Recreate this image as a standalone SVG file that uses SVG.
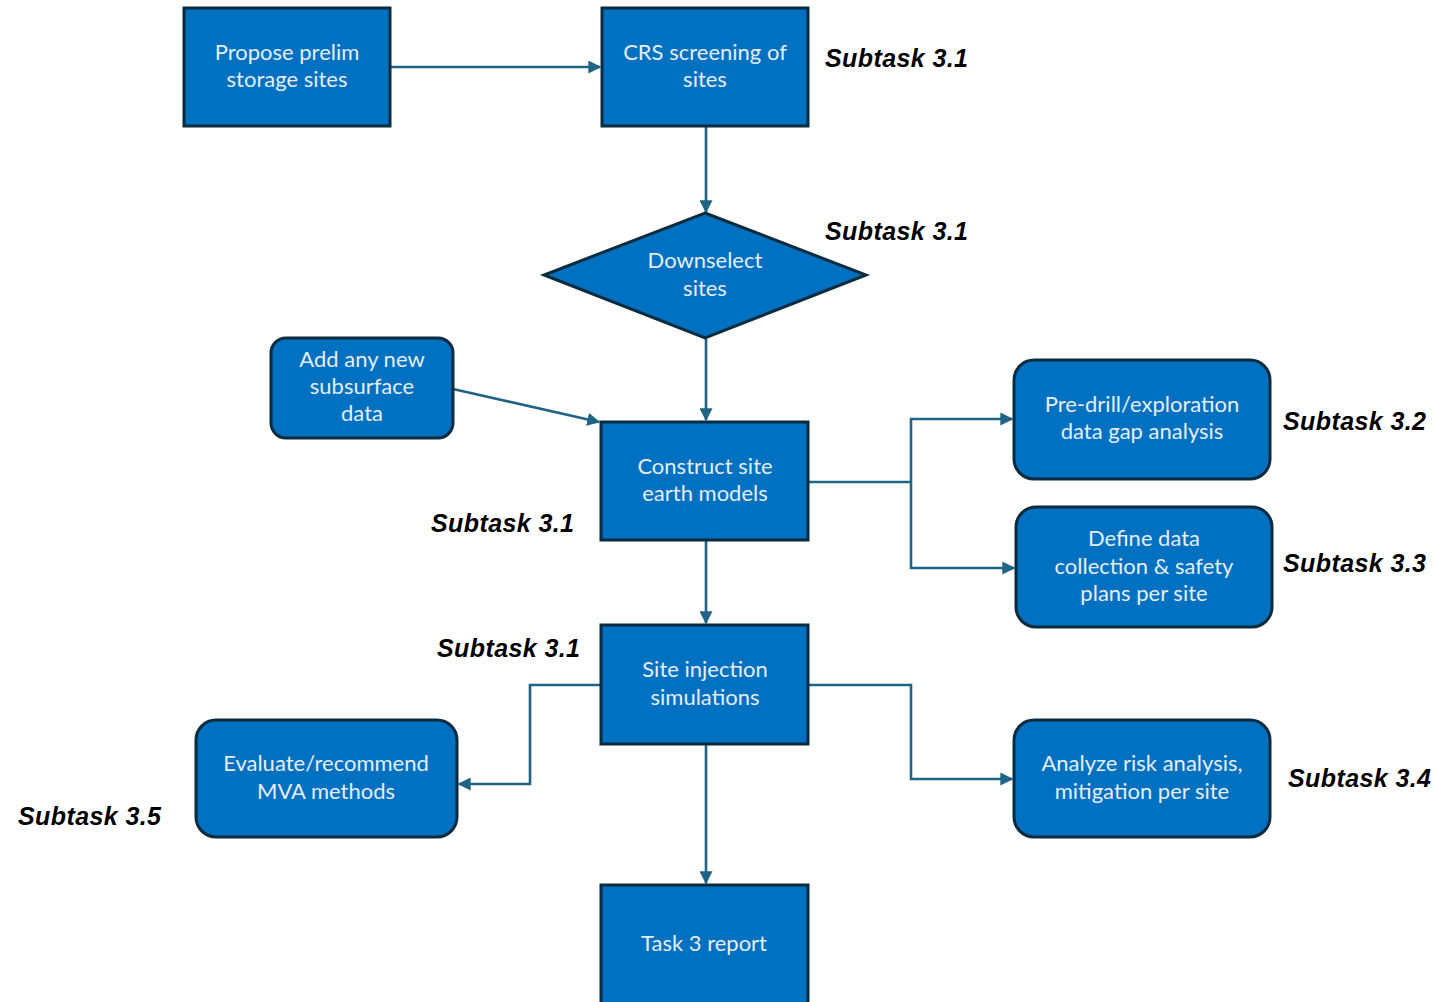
<svg xmlns="http://www.w3.org/2000/svg" width="1437" height="1002" viewBox="0 0 1437 1002">
<defs>
<marker id="ah" viewBox="0 0 10 10" refX="9" refY="5" markerWidth="5" markerHeight="5" orient="auto" markerUnits="strokeWidth">
<path d="M0,0 L10,5 L0,10 z" fill="#1f6385"/>
</marker>
<style>
.n{fill:#0070c0;stroke:#0b2b3f;stroke-width:3}
.t{font-family:Lato,"Open Sans",sans-serif;font-size:22px;fill:#e4eef9;text-anchor:middle}
.s{font-family:"Liberation Sans",Arial,sans-serif;font-size:25px;letter-spacing:0.4px;font-weight:bold;font-style:italic;fill:#000}
.c{fill:none;stroke:#1f6385;stroke-width:2.6}
</style>
</defs>
<rect width="1437" height="1002" fill="#fff"/>
<g id="connectors">
<line class="c" x1="390" y1="67" x2="600" y2="67" marker-end="url(#ah)"/>
<line class="c" x1="706" y1="126" x2="706" y2="212" marker-end="url(#ah)"/>
<line class="c" x1="706" y1="338" x2="706" y2="420" marker-end="url(#ah)"/>
<line class="c" x1="453" y1="389" x2="599" y2="422" marker-end="url(#ah)"/>
<polyline class="c" points="808,482 911,482"/>
<polyline class="c" points="911,482 911,419 1012,419" marker-end="url(#ah)"/>
<polyline class="c" points="911,482 911,568 1014,568" marker-end="url(#ah)"/>
<line class="c" x1="706" y1="540" x2="706" y2="623" marker-end="url(#ah)"/>
<polyline class="c" points="601,685 530,685 530,784 459,784" marker-end="url(#ah)"/>
<polyline class="c" points="808,685 911,685 911,779 1012,779" marker-end="url(#ah)"/>
<line class="c" x1="706" y1="744" x2="706" y2="883" marker-end="url(#ah)"/>
</g>
<g id="n1"><rect class="n" x="184" y="8" width="206" height="118"/><text class="t" x="287" y="60">Propose prelim</text><text class="t" x="287" y="87">storage sites</text></g>
<g id="n2"><rect class="n" x="602" y="8" width="206" height="118"/><text class="t" x="705" y="60">CRS screening of</text><text class="t" x="705" y="87">sites</text></g>
<g id="n3"><polygon class="n" points="705,213 866,275 705,338 544,275"/><text class="t" x="705" y="268">Downselect</text><text class="t" x="705" y="296">sites</text></g>
<g id="n4"><rect class="n" x="271" y="338" width="182" height="100" rx="15"/><text class="t" x="362" y="367">Add any new</text><text class="t" x="362" y="394">subsurface</text><text class="t" x="362" y="421">data</text></g>
<g id="n5"><rect class="n" x="601" y="422" width="207" height="118"/><text class="t" x="705" y="474">Construct site</text><text class="t" x="705" y="501">earth models</text></g>
<g id="n6"><rect class="n" x="1014" y="360" width="256" height="119" rx="20"/><text class="t" x="1142" y="412">Pre-drill/exploration</text><text class="t" x="1142" y="439">data gap analysis</text></g>
<g id="n7"><rect class="n" x="1016" y="507" width="256" height="120" rx="20"/><text class="t" x="1144" y="546">Define data</text><text class="t" x="1144" y="574">collection &amp; safety</text><text class="t" x="1144" y="601">plans per site</text></g>
<g id="n8"><rect class="n" x="601" y="625" width="207" height="119"/><text class="t" x="705" y="677">Site injection</text><text class="t" x="705" y="705">simulations</text></g>
<g id="n9"><rect class="n" x="196" y="720" width="261" height="117" rx="20"/><text class="t" x="326" y="771">Evaluate/recommend</text><text class="t" x="326" y="799">MVA methods</text></g>
<g id="n10"><rect class="n" x="1014" y="720" width="256" height="117" rx="20"/><text class="t" x="1142" y="771">Analyze risk analysis,</text><text class="t" x="1142" y="799">mitigation per site</text></g>
<g id="n11"><rect class="n" x="601" y="885" width="207" height="125"/><text class="t" x="704" y="951">Task 3 report</text></g>
<g id="labels">
<text class="s" x="825" y="67">Subtask 3.1</text>
<text class="s" x="825" y="240">Subtask 3.1</text>
<text class="s" x="431" y="532">Subtask 3.1</text>
<text class="s" x="437" y="657">Subtask 3.1</text>
<text class="s" x="1283" y="430">Subtask 3.2</text>
<text class="s" x="1283" y="572">Subtask 3.3</text>
<text class="s" x="1288" y="787">Subtask 3.4</text>
<text class="s" x="18" y="825">Subtask 3.5</text>
</g>
</svg>
